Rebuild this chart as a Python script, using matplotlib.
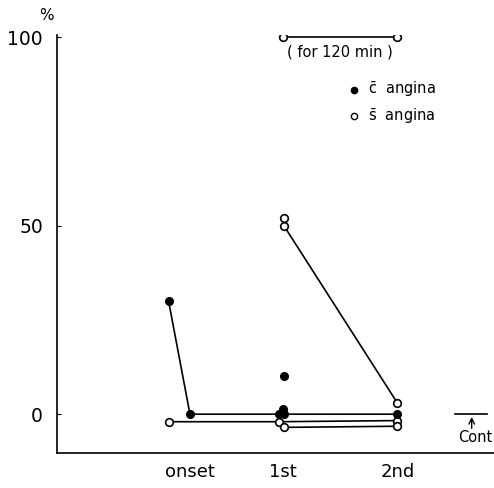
import matplotlib
matplotlib.use('Agg')
import matplotlib.pyplot as plt

plt.rcParams['font.family'] = ['DejaVu Sans']
plt.rcParams['mathtext.default'] = 'regular'

# x categories (1st and 2nd are not equally spaced in the original)
tick_pos = [1.0, 2.0, 3.23]
tick_labels = ['onset', '1st', '2nd']
yticks = [0, 50, 100]

# connected series (with angina = filled, without = open)
c_line_x = [0.77, 1.0, 1.96, 3.23]
c_line_y = [30, 0, 0, 0]
c_pts_x = [2.01, 2.0, 2.01]
c_pts_y = [10, 1.5, 0]

s_line1_x = [0.77, 1.96, 3.23]
s_line1_y = [-2, -2, -1.7]
s_line2_x = [2.01, 3.23]
s_line2_y = [-3.5, -3.2]
s_line3_x = [2.01, 3.23]
s_line3_y = [50, 3]
s_pts_x = [2.01]
s_pts_y = [52]

ref_x = [2.0, 3.23]
ref_y = [100, 100]

fig = plt.figure(figsize=(4.94, 4.88), dpi=100)
ax = fig.add_axes([0.1154, 0.0717, 0.8846, 0.856])
ax.set_xlim(-0.43, 4.27)
ax.set_ylim(-10.3, 100.5)

lw = 1.2
ms = 5.5
filled = dict(color='black', marker='o', markersize=ms, markerfacecolor='black',
              markeredgecolor='black', lw=lw)
hollow = dict(color='black', marker='o', markersize=ms, markerfacecolor='white',
              markeredgecolor='black', markeredgewidth=1.2, lw=lw)

ax.plot(s_line1_x, s_line1_y, **hollow)
ax.plot(s_line2_x, s_line2_y, **hollow)
ax.plot(s_line3_x, s_line3_y, **hollow)
ax.plot(s_pts_x, s_pts_y, ls='none', **{k: v for k, v in hollow.items() if k != 'lw'})
ax.plot(c_line_x, c_line_y, **filled)
ax.plot(c_pts_x, c_pts_y, ls='none', **{k: v for k, v in filled.items() if k != 'lw'})

# duration reference
ax.plot(ref_x, ref_y, **hollow)
ax.text(sum(ref_x) / 2, 96, '( for 120 min )', ha='center', va='center', fontsize=10.5)

# legend
ax.plot([2.76], [86], 'o', color='black', markersize=4.5)
ax.text(2.92, 86, r'$\bar{c}$  angina', ha='left', va='center', fontsize=10.5)
ax.plot([2.76], [79], 'o', markerfacecolor='white', markeredgecolor='black',
        markersize=4.5)
ax.text(2.92, 79, r'$\bar{s}$  angina', ha='left', va='center', fontsize=10.5)

# control marker
ax.plot([3.85, 4.2], [0, 0], color='black', lw=lw)
ax.annotate('', xy=(4.03, 0), xytext=(4.03, -4.5),
            arrowprops=dict(arrowstyle='->', color='black', lw=1.0))
ax.text(4.07, -6.3, 'Cont', ha='center', va='center', fontsize=10.5)

ax.set_xticks(tick_pos)
ax.set_xticklabels(tick_labels, fontsize=13)
ax.tick_params(axis='x', length=0, pad=7)
ax.set_yticks(yticks)
ax.set_yticklabels([str(v) for v in yticks], fontsize=13.5)
ax.tick_params(axis='y', direction='in', length=3, pad=10)

ax.spines['top'].set_visible(False)
ax.spines['right'].set_visible(False)
ax.spines['left'].set_linewidth(1.2)
ax.spines['bottom'].set_linewidth(1.2)

fig.text(0.095, 0.968, '%', ha='center', va='center', fontsize=11)

fig.savefig('out.png', dpi=100)
